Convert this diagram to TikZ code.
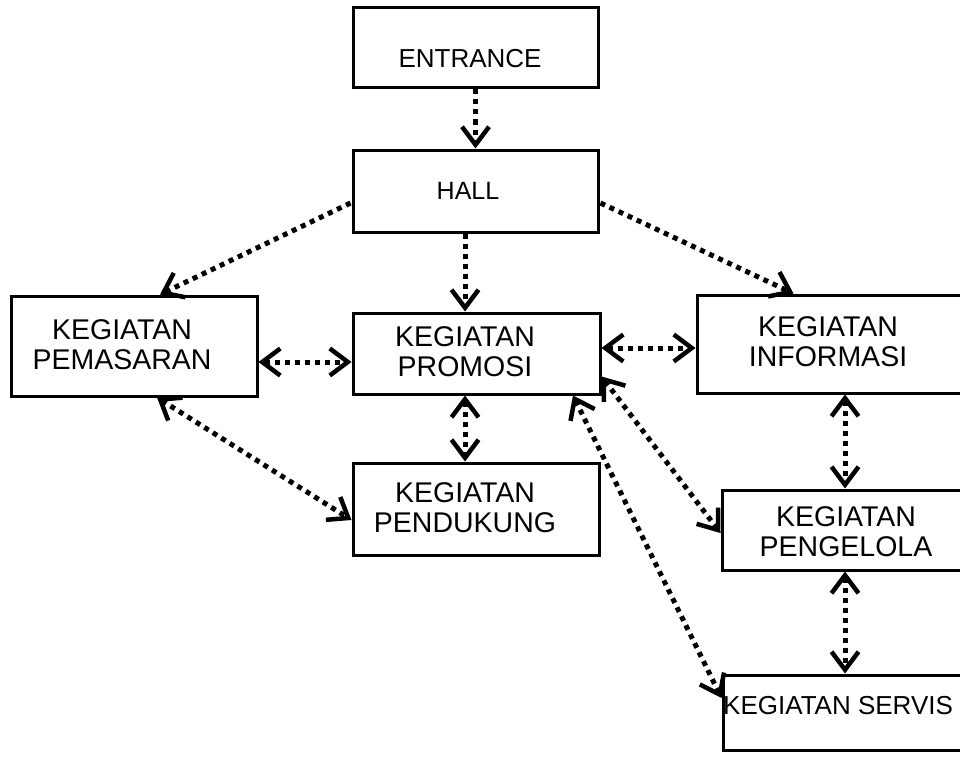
\documentclass[tikz,border=0pt]{standalone}
\usepackage{fontspec}
\setmainfont{Liberation Sans}
\usetikzlibrary{arrows.meta,calc}
\begin{document}
\begin{tikzpicture}[x=1pt,y=-1pt,
  box/.style={draw,line width=3pt,rectangle,inner sep=0pt},
  lbl/.style={inner sep=0pt,align=center,font=\fontsize{28.5}{30}\selectfont},
  one/.style={line width=5pt,dash pattern=on 5pt off 5pt,-{Straight Barb[length=18pt,width=27pt,line width=4.5pt]}},
  two/.style={line width=5pt,dash pattern=on 5pt off 5pt,{Straight Barb[length=18pt,width=27pt,line width=4.5pt]}-{Straight Barb[length=18pt,width=27pt,line width=4.5pt]}}]
\clip (0,0) rectangle (960,757);
\fill[white] (0,0) rectangle (960,757);

\node[box,minimum width=245,minimum height=80,
  label={[lbl,font=\fontsize{26}{29}\selectfont,xshift=-5.5pt,yshift=-11pt]center:ENTRANCE}] (entrance) at (475.5,48) {};
\node[box,minimum width=245,minimum height=82,
  label={[lbl,font=\fontsize{25}{29}\selectfont,xshift=-7.5pt]center:HALL}] (hall) at (475.5,191) {};
\node[box,minimum width=246,minimum height=100,
  label={[lbl,xshift=-12pt,yshift=1pt]center:KEGIATAN\\PEMASARAN}] (pemasaran) at (134,346) {};
\node[box,minimum width=247,minimum height=81,
  label={[lbl,xshift=-11.5pt,yshift=1.5pt]center:KEGIATAN\\PROMOSI}] (promosi) at (476.5,353.5) {};
\node[box,minimum width=278,minimum height=98,
  label={[lbl,xshift=-8pt,yshift=2pt]center:KEGIATAN\\INFORMASI}] (informasi) at (836,344) {};
\node[box,minimum width=246,minimum height=92,
  label={[lbl,xshift=-11pt,yshift=1pt]center:KEGIATAN\\PENDUKUNG}] (pendukung) at (476,509) {};
\node[box,minimum width=253,minimum height=80,
  label={[lbl,xshift=-2.5pt,yshift=-2pt]center:KEGIATAN\\PENGELOLA}] (pengelola) at (848.5,530) {};
\node[box,minimum width=252,minimum height=75,
  label={[lbl,font=\fontsize{26}{30}\selectfont,anchor=west,xshift=1.5pt,yshift=6.5pt]west:KEGIATAN SERVIS}] (servis) at (849,712.5) {};

\draw[one] (entrance.south) -- (hall.north);
\draw[one] ($(hall.west)+(-1,12)$) -- ($(pemasaran.north)+(26,0)$);
\draw[one] ($(hall.east)+(1,12)$) -- ($(informasi.north west)+(98,0)$);
\draw[one] ($(hall.south)+(-10.5,0)$) -- ($(promosi.north)+(-11.5,0)$);
\draw[two] ($(pemasaran.east)+(0,16)$) -- ($(promosi.west)+(0,8.5)$);
\draw[two] ($(promosi.east)+(0,-5.5)$) -- ($(informasi.west)+(0,4)$);
\draw[two] ($(promosi.south)+(-11.5,0)$) -- ($(pendukung.north)+(-11,0)$);
\draw[two] ($(pemasaran.south)+(23,0)$) -- ($(pendukung.west)+(0,11)$);
\draw[two] ($(informasi.south)+(9,0)$) -- ($(pengelola.north)+(-3.5,0)$);
\draw[two] ($(promosi.east)+(0,23)$) -- ($(pengelola.west)+(0,3)$);
\draw[two] ($(promosi.south)+(96.5,0)$) -- ($(servis.west)+(0,-14.5)$);
\draw[two] ($(pengelola.south)+(-3.5,0)$) -- ($(servis.north)+(-4,0)$);
\end{tikzpicture}
\end{document}
